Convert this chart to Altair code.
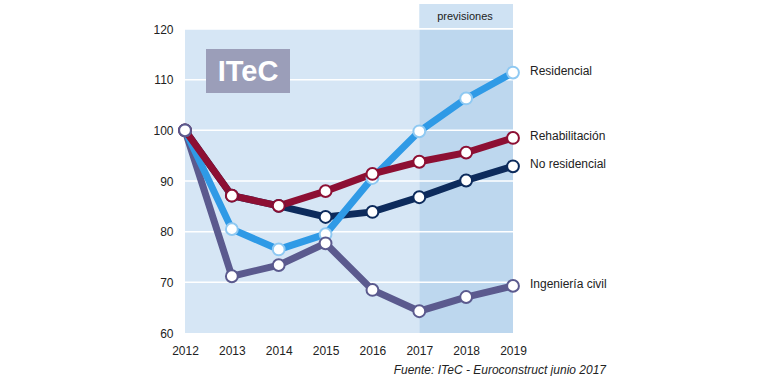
import altair as alt
import pandas as pd

years = [2012, 2013, 2014, 2015, 2016, 2017, 2018, 2019]
residencial = [100, 80.5, 76.5, 79.5, 90.6, 99.8, 106.3, 111.4]
rehabilitacion = [100, 87.1, 85.1, 88.0, 91.4, 93.8, 95.6, 98.5]
no_residencial = [100, 87.1, 85.1, 82.9, 83.9, 86.8, 90.1, 92.9]
ingenieria = [100, 71.2, 73.4, 77.7, 68.5, 64.3, 67.1, 69.3]

series_names = ["No residencial", "Ingeniería civil", "Residencial", "Rehabilitación"]
series_values = [no_residencial, ingenieria, residencial, rehabilitacion]
line_colors = ["#0d2b5c", "#5b5a8e", "#2f9ae6", "#8d0f33"]
point_strokes = ["#0d2b5c", "#5b5a8e", "#8fc9f2", "#8d0f33"]
point_order = ["No residencial", "Residencial", "Rehabilitación", "Ingeniería civil"]

grid_values = [70, 80, 90, 100, 110, 120]
font = "Liberation Sans"

xs = alt.Scale(domain=[2012, 2019], nice=False, zero=False)
ys = alt.Scale(domain=[60, 120], nice=False, zero=False)

bg = pd.DataFrame({"x": [2012, 2017], "x2": [2017, 2019], "c": ["#d6e6f5", "#bdd7ee"]})
background = alt.Chart(bg).mark_rect().encode(
    x=alt.X("x:Q", scale=xs, axis=alt.Axis(
        values=years, format="d", title=None, domain=False, ticks=False, grid=False,
        labelFlush=False, labelBound=False,
        labelFont=font, labelFontSize=12, labelColor="#222", labelPadding=12)),
    x2="x2",
    y=alt.datum(60, scale=ys, axis=alt.Axis(
        values=[60, 70, 80, 90, 100, 110, 120], title=None, domain=False, ticks=False,
        grid=False, labelFlush=False, labelBound=False,
        labelFont=font, labelFontSize=12, labelColor="#222", labelPadding=12)),
    y2=alt.datum(120),
    color=alt.Color("c:N", scale=None),
)

prev = alt.Chart(pd.DataFrame({"x": [2017], "x2": [2019], "t": ["previsiones"]}))
prev_box = prev.mark_rect(color="#cfe2f3", clip=False).encode(
    x=alt.X("x:Q", scale=xs), x2="x2", y=alt.value(-25), y2=alt.value(-1))
prev_text = prev.mark_text(font=font, fontSize=11, color="#222", clip=False).encode(
    x=alt.value((417 + 513) / 2 - 185), y=alt.value(-12), text="t:N")

grid = alt.Chart(pd.DataFrame({"g": grid_values})).mark_rule(color="white", strokeWidth=1.5).encode(
    y=alt.Y("g:Q", scale=ys), x=alt.value(0), x2=alt.value(328))

logo_df = pd.DataFrame({"t": ["ITeC"]})
logo_box = alt.Chart(logo_df).mark_rect(color="#9b9eb9").encode(
    x=alt.value(21), x2=alt.value(105), y=alt.value(20), y2=alt.value(64))
logo_text = alt.Chart(logo_df).mark_text(font=font, fontSize=29, fontWeight="bold", color="white").encode(
    x=alt.value(63), y=alt.value(43), text="t:N")

rows = []
for name, vals in zip(series_names, series_values):
    for y, v in zip(years, vals):
        rows.append({"serie": name, "year": y, "v": v})
df = pd.DataFrame(rows)

layers = [background, grid, prev_box, prev_text, logo_box, logo_text]
for name, col in zip(series_names, line_colors):
    layers.append(alt.Chart(df[df.serie == name]).mark_line(color=col, strokeWidth=7).encode(
        x=alt.X("year:Q", scale=xs), y=alt.Y("v:Q", scale=ys)))
for name in point_order:
    i = series_names.index(name)
    layers.append(alt.Chart(df[df.serie == name]).mark_point(
        filled=True, fill="white", stroke=point_strokes[i], strokeWidth=2, size=140, opacity=1).encode(
        x=alt.X("year:Q", scale=xs), y=alt.Y("v:Q", scale=ys)))

last = pd.DataFrame({"serie": series_names, "year": [years[-1]] * 4, "v": [s[-1] for s in series_values]})
labels = alt.Chart(last).mark_text(align="left", dx=17, dy=-2, font=font, fontSize=12, color="#222", clip=False).encode(
    x=alt.X("year:Q", scale=xs), y=alt.Y("v:Q", scale=ys), text="serie:N")
layers.append(labels)

source = alt.Chart(pd.DataFrame({"t": ["Fuente: ITeC - Euroconstruct junio 2017"]})).mark_text(
    align="right", font=font, fontSize=12, fontStyle="italic", color="#222", clip=False).encode(
    x=alt.value(606 - 185), y=alt.value(370 - 29), text="t:N")
layers.append(source)

chart = alt.layer(*layers).properties(
    width=328, height=304,
    autosize=alt.AutoSizeParams(type="none"),
    padding={"left": 185, "top": 29, "right": 257, "bottom": 43},
    background="white",
).configure_view(stroke=None)

chart.save("out.html", embed_options={"renderer": "svg", "actions": False})
